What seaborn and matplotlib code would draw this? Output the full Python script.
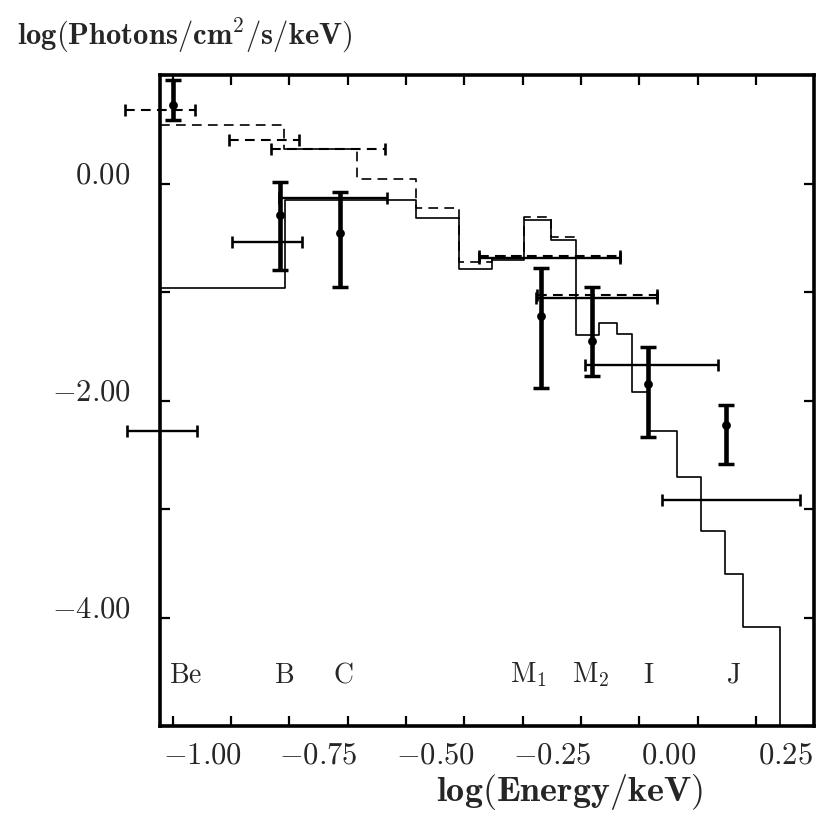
import numpy as np
import matplotlib
matplotlib.use("Agg")
import matplotlib.pyplot as plt
import matplotlib.transforms as mtransforms
import seaborn as sns
from matplotlib.ticker import FixedLocator, FuncFormatter, NullFormatter

# ---------------- data ----------------
band_labels = [r"$\mathrm{Be}$", r"$\mathrm{B}$", r"$\mathrm{C}$",
               r"$\mathrm{M}_1$", r"$\mathrm{M}_2$", r"$\mathrm{I}$", r"$\mathrm{J}$"]
band_label_x = [-1.035, -0.825, -0.697, -0.300, -0.167, -0.043, 0.139]

# observed rates (thick error bars with dots)
obs_x = [-1.062, -0.832, -0.705, -0.274, -0.164, -0.044, 0.124]
obs_y = [0.726, -0.291, -0.460, -1.220, -1.450, -1.846, -2.222]
obs_hi = [0.950, 0.015, -0.077, -0.782, -0.951, -1.503, -2.039]
obs_lo = [0.582, -0.797, -0.956, -1.885, -1.778, -2.336, -2.584]

# band-averaged model values, solid model (horizontal bars)
solid_bar_lo = [-1.160, -0.935, -0.835, -0.407, -0.285, -0.178, -0.015]
solid_bar_hi = [-1.010, -0.785, -0.603, -0.103, -0.024, 0.107, 0.281]
solid_bar_y = [-2.284, -0.537, -0.138, -0.687, -1.057, -1.671, -2.919]

# band-averaged model values, dashed model (horizontal bars)
dash_bar_lo = [-1.164, -0.943, -0.853, -0.407, -0.281]
dash_bar_hi = [-1.014, -0.793, -0.607, -0.103, -0.024]
dash_bar_y = [0.680, 0.398, 0.322, -0.668, -1.027]

# solid model spectrum (histogram: bin edges and levels)
solid_edges = [-1.09, -0.823, -0.542, -0.4495, -0.378, -0.310, -0.251, -0.199,
               -0.149, -0.110, -0.078, -0.042, 0.019, 0.069, 0.121, 0.159,
               0.238, 0.3125]
solid_levels = [-0.966, -0.154, -0.319, -0.791, -0.706, -0.337, -0.521, -1.395,
                -1.287, -1.389, -1.922, -2.284, -2.703, -3.204, -3.602, -4.092,
                -5.0]

# dashed model spectrum
dash_edges = [-1.09, -0.825, -0.667, -0.542, -0.4495, -0.378, -0.310, -0.251, -0.199]
dash_levels = [0.536, 0.322, 0.037, -0.230, -0.721, -0.670, -0.307, -0.497]

x_tick_values = [-1.00, -0.75, -0.50, -0.25, 0.00, 0.25]
y_tick_values = [0.0, -2.0, -4.0]

title_text = r"$\mathbf{log(Photons/cm^2/s/keV)}$"
xlabel_text = r"$\mathbf{log(Energy/keV)}$"

# ---------------- styling ----------------
sns.set_theme(style="white")
plt.rcParams["mathtext.fontset"] = "cm"
plt.rcParams["font.family"] = ["DejaVu Serif", "DejaVu Sans"]
plt.rcParams["lines.scale_dashes"] = False

fig = plt.figure(figsize=(8.3, 8.3), dpi=100)
ax = fig.add_axes([160 / 830, 1 - 726 / 830, 654.3 / 830, 651 / 830])

# model histograms
sns.lineplot(x=solid_edges, y=solid_levels + [solid_levels[-1]], drawstyle="steps-post",
             estimator=None, sort=False, color="black", linewidth=1.2, ax=ax)
sns.lineplot(x=dash_edges, y=dash_levels + [dash_levels[-1]], drawstyle="steps-post",
             estimator=None, sort=False, color="black", linewidth=1.2, ax=ax)
ax.lines[-1].set_linestyle((0, (7, 4.5)))

# horizontal band bars
s_lo = np.array(solid_bar_lo); s_hi = np.array(solid_bar_hi)
eb = ax.errorbar((s_lo + s_hi) / 2, solid_bar_y, xerr=(s_hi - s_lo) / 2, fmt="none",
                 ecolor="black", elinewidth=1.7, capsize=4.5, capthick=1.9, clip_on=False)
for art in eb.lines[1] + eb.lines[2]:
    art.set_clip_on(False)

d_lo = np.array(dash_bar_lo); d_hi = np.array(dash_bar_hi)
ebd = ax.errorbar((d_lo + d_hi) / 2, dash_bar_y, xerr=(d_hi - d_lo) / 2, fmt="none",
                  ecolor="black", elinewidth=1.5, capsize=4.5, capthick=1.9, clip_on=False)
for art in ebd.lines[1] + ebd.lines[2]:
    art.set_clip_on(False)
ebd.lines[2][0].set_linestyle((0, (7, 4.5)))

# observed data
oy = np.array(obs_y)
yerr = [oy - np.array(obs_lo), np.array(obs_hi) - oy]
ax.errorbar(obs_x, obs_y, yerr=yerr, fmt="none", ecolor="black",
            elinewidth=3.3, capsize=5.5, capthick=2.5)
sns.scatterplot(x=obs_x, y=obs_y, color="black", s=40, edgecolor="black",
                linewidth=0, ax=ax, zorder=5)

# band names
for lab, xv in zip(band_labels, band_label_x):
    ax.text(xv, -4.53, lab, ha="center", va="center", fontsize=20)

# axes
ax.set_xlim(-1.09, 0.3125)
ax.set_ylim(-5.0, 1.0)
for sp in ax.spines.values():
    sp.set_visible(True)
    sp.set_linewidth(2.6)
    sp.set_color("black")

fmt = FuncFormatter(lambda v, p: r"$%.2f$" % v)
ax.xaxis.set_major_locator(FixedLocator(x_tick_values))
ax.xaxis.set_minor_locator(FixedLocator(np.arange(-1.0625, 0.30, 0.125)))
ax.xaxis.set_major_formatter(fmt)
ax.yaxis.set_major_locator(FixedLocator([1.0, 0.0, -1.0, -2.0, -3.0, -4.0, -5.0]))
ax.yaxis.set_major_formatter(NullFormatter())

ax.tick_params(axis="x", which="major", length=0, pad=10, labelsize=22)
ax.tick_params(axis="x", which="minor", direction="in", length=7, width=1.6,
               top=True, bottom=True, color="black")
ax.tick_params(axis="y", which="both", direction="in", length=7, width=1.6,
               left=True, right=True, color="black")

# y tick labels: right-aligned, baseline sitting on the tick
ylab_trans = mtransforms.blended_transform_factory(ax.transAxes, ax.transData)
for v in y_tick_values:
    ax.text(-0.045, v, fmt(v, None), transform=ylab_trans, ha="right",
            va="baseline", fontsize=22)

ax.text((569 - 160) / 654.3, (726 - 792) / 651, xlabel_text, transform=ax.transAxes,
        ha="center", va="center", fontsize=26)
ax.text((17 - 160) / 654.3, (726 - 35) / 651, title_text, transform=ax.transAxes,
        ha="left", va="center", fontsize=22)

ax.grid(False)
fig.savefig("out.png", dpi=100, facecolor="white")
